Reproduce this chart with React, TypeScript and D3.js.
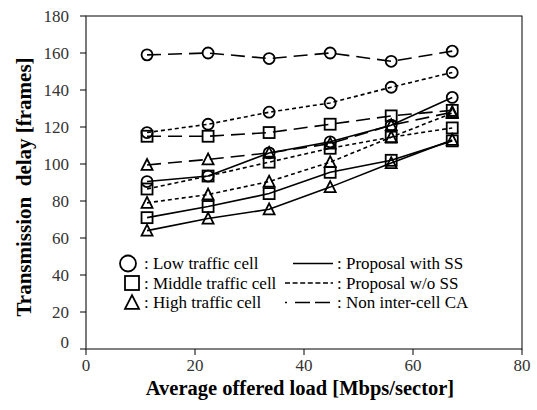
import React from "react";
import * as d3 from "d3";

const loads = [11.2, 22.4, 33.6, 44.8, 56, 67.2];
const lowWithSS = [90.5, 93.5, 106, 112, 121, 136];
const lowWoSS = [117, 121.5, 128, 133, 141.5, 149.5];
const lowNonCA = [159, 160, 157, 160, 155.5, 161];
const midWithSS = [71, 77, 84, 95.5, 102, 112.5];
const midWoSS = [86.5, 93.5, 101, 108.5, 114.5, 119.5];
const midNonCA = [115, 115, 117, 121.5, 126, 129];
const highWithSS = [64, 70.5, 75.5, 87.5, 100.5, 113];
const highWoSS = [79, 83.5, 90.5, 101, 114.5, 127.5];
const highNonCA = [99.5, 102.5, 106, 111, 121, 128];

const xTicks = [0, 20, 40, 60, 80];
const yTicks = [0, 20, 40, 60, 80, 100, 120, 140, 160, 180];

const cellLabels = ["Low traffic cell", "Middle traffic cell", "High traffic cell"];
const schemeLabels = ["Proposal with SS", "Proposal w/o SS", "Non inter-cell CA"];

type Marker = "circle" | "square" | "triangle";
type Scheme = "solid" | "short" | "long";

const seriesList: { values: number[]; marker: Marker; scheme: Scheme }[] = [
  { values: lowWithSS, marker: "circle", scheme: "solid" },
  { values: lowWoSS, marker: "circle", scheme: "short" },
  { values: lowNonCA, marker: "circle", scheme: "long" },
  { values: midWithSS, marker: "square", scheme: "solid" },
  { values: midWoSS, marker: "square", scheme: "short" },
  { values: midNonCA, marker: "square", scheme: "long" },
  { values: highWithSS, marker: "triangle", scheme: "solid" },
  { values: highWoSS, marker: "triangle", scheme: "short" },
  { values: highNonCA, marker: "triangle", scheme: "long" },
];

const dashFor: Record<Scheme, string | undefined> = {
  solid: undefined,
  short: "4 3",
  long: "14 7",
};

const FONT = "'Liberation Serif', 'Times New Roman', serif";

function MarkerShape({ kind, x, y, s }: { kind: Marker; x: number; y: number; s: number }) {
  const common = { fill: "none", stroke: "#000", strokeWidth: 1.8 };
  if (kind === "circle") return <circle cx={x} cy={y} r={s / 2} {...common} />;
  if (kind === "square")
    return <rect x={x - s / 2} y={y - s / 2} width={s} height={s} {...common} />;
  const h = s * 0.9;
  return (
    <path
      d={`M${x},${y - h / 2 - 1}L${x + s / 2},${y + h / 2}L${x - s / 2},${y + h / 2}Z`}
      {...common}
    />
  );
}

export default function App() {
  const W = 537;
  const H = 410;
  const left = 86, right = 522, top = 16, bottom = 349;
  const x = d3.scaleLinear().domain([0, 80]).range([left, right]);
  const y = d3.scaleLinear().domain([0, 180]).range([bottom, top]);
  const line = d3
    .line<number>()
    .x((_, i) => x(loads[i]))
    .y((d) => y(d));

  const legendRows = [263.5, 283, 302.5];
  const legendMarkers: Marker[] = ["circle", "square", "triangle"];
  const legendDash = ["", "5 2.6", "2 8 15 5 15 100"];

  return (
    <svg
      width={W}
      height={H}
      style={{ position: "absolute", left: 0, top: 0, background: "#fff" }}
      fontFamily={FONT}
    >
      <rect x={0} y={0} width={W} height={H} fill="#fff" />
      <rect x={left} y={top} width={right - left} height={bottom - top} fill="none" stroke="#000" strokeWidth={1} />
      <line x1={left} x2={left} y1={top} y2={bottom} stroke="#777" strokeWidth={1.3} />
      {yTicks.map((t) => (
        <g key={"y" + t}>
          <line x1={left - 6} x2={left} y1={y(t)} y2={y(t)} stroke="#000" />
          <text
            x={69}
            y={y(t) - (t === 0 ? 7 : 0)}
            dy="0.35em"
            textAnchor="end"
            fontSize={17}
            fill="#333"
          >
            {t}
          </text>
        </g>
      ))}
      {xTicks.map((t) => (
        <g key={"x" + t}>
          <line x1={x(t)} x2={x(t)} y1={bottom} y2={bottom + 6} stroke="#000" />
          <text x={x(t)} y={371} textAnchor="middle" fontSize={17} fill="#333">
            {t}
          </text>
        </g>
      ))}
      <text x={300} y={395} textAnchor="middle" fontSize={20.5} fontWeight="bold">
        Average offered load [Mbps/sector]
      </text>
      <text
        transform={`translate(31, 187) rotate(-90)`}
        textAnchor="middle"
        fontSize={21}
        fontWeight="bold"
        style={{ whiteSpace: "pre" }}
      >
        {"Transmission  delay [frames]"}
      </text>

      {seriesList.map((s, i) => (
        <path
          key={"l" + i}
          d={line(s.values) || ""}
          fill="none"
          stroke="#000"
          strokeWidth={1.6}
          strokeDasharray={dashFor[s.scheme]}
        />
      ))}
      {seriesList.map((s, i) =>
        s.values.map((v, j) => (
          <MarkerShape key={`m${i}-${j}`} kind={s.marker} x={x(loads[j])} y={y(v)} s={11} />
        ))
      )}

      {legendRows.map((ry, i) => (
        <g key={"lg" + i}>
          <MarkerShape kind={legendMarkers[i]} x={i === 0 ? 128 : 132} y={ry} s={i === 0 ? 16 : 14} />
          <text x={144} y={ry} dy="0.35em" fontSize={17}>
            {": " + cellLabels[i]}
          </text>
          <line
            x1={i === 0 ? 293 : 285}
            x2={333}
            y1={ry}
            y2={ry}
            stroke="#000"
            strokeWidth={1.4}
            strokeDasharray={legendDash[i] || undefined}
          />
          <text x={337} y={ry} dy="0.35em" fontSize={17}>
            {": " + schemeLabels[i]}
          </text>
        </g>
      ))}
    </svg>
  );
}
